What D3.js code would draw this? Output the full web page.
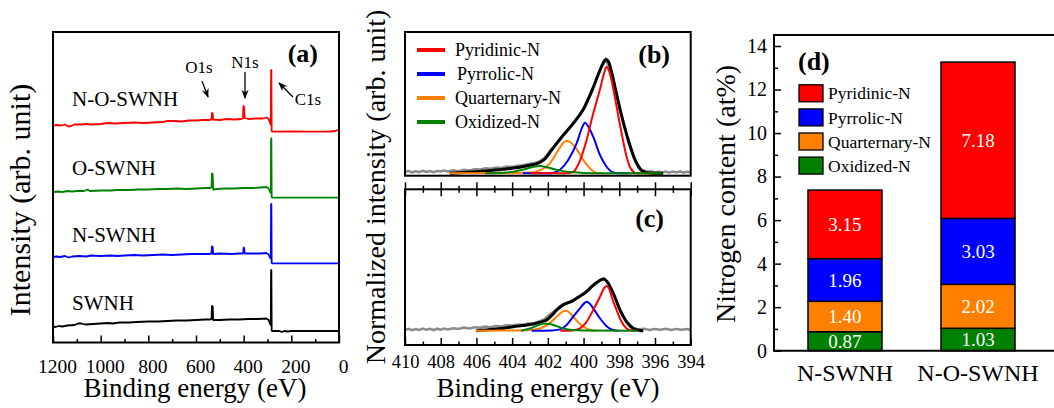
<!DOCTYPE html>
<html>
<head>
<meta charset="utf-8" />
<title>XPS of SWNH samples</title>
<style>
  body { margin: 0; background: #fff; }
  svg, svg text { font-family: "Liberation Serif", "Times New Roman", serif; }
</style>
</head>
<body>
<script src="https://d3js.org/d3.v7.min.js"></script>
<script>

// ---- panel (a): survey spectra, [binding energy eV, intensity arb.] ----
var surveyNOS = [[1200,216.5],[1185,217],[1165,216.5],[1150,217.5],[1135,215.5],[1125,216],[1110,217.5],[1080,217.5],[1060,218],[1040,217.5],[1000,218],[970,219],[940,218.5],[900,219],[860,219.5],[820,219],[780,219.5],[740,220],[720,221],[690,221],[660,220.5],[630,221.5],[600,221.5],[570,222],[545,222],[535,222.5],[533,229],[530,228.5],[528,222.5],[500,222],[470,223],[440,222.5],[410,223],[403,223.5],[401,236],[398,235],[396,224],[380,223],[350,223.5],[320,223.5],[305,224.5],[295,223],[289,219],[286,217.5],[285,271.5],[283.8,272],[282.5,211],[280,210.3],[240,210.3],[200,210.5],[150,210.3],[100,210.3],[40,210.5],[15,211],[5,212],[0,211.5]];
var surveyOS = [[1200,150],[1180,150.5],[1160,150],[1140,151],[1120,150.5],[1100,151],[1070,151],[1055,152.5],[1045,151],[1000,151.5],[960,151.5],[930,152],[880,152],[840,152.5],[800,152.5],[760,153],[720,153],[680,153.5],[640,153],[600,153.5],[560,154],[540,154],[535,155],[533,168.5],[530,168],[528,152.5],[510,153],[480,153.5],[440,153.5],[400,154],[360,154],[330,154.5],[305,155],[295,153.5],[289,150],[286,149],[285,203],[283.8,203.7],[282.5,145],[280,144.3],[0,144.3]];
var surveyNS = [[1200,85],[1185,85.5],[1170,85],[1150,86],[1135,84.5],[1120,85.5],[1090,86],[1060,85.5],[1040,86.5],[1000,86],[960,86.5],[930,86],[900,86.5],[860,87],[820,86.5],[780,87],[740,87.5],[700,87],[660,87.5],[620,88],[580,88],[545,88],[535,88.5],[533,95.5],[530,95],[528,88],[500,88.5],[450,88],[420,88.5],[405,88.5],[402,89],[400,94.5],[398,94],[396,88.5],[370,88.5],[330,88.5],[305,89],[295,87.5],[289,84],[286,83.5],[285,137.5],[283.8,138],[282.5,79],[280,78.7],[0,78.7]];
var surveyS = [[1200,15.5],[1190,15],[1175,16],[1160,15.5],[1140,16.5],[1110,17],[1095,18.5],[1080,18.5],[1065,17.5],[1030,18],[1000,18.5],[970,19],[950,18.5],[920,19.5],[880,19.5],[850,20],[800,20.5],[760,20.5],[720,21],[680,21.5],[640,21.5],[600,22],[560,22.5],[540,22.5],[535,23],[533,36],[530,35.5],[528,22],[500,22],[460,22.5],[420,22.5],[380,23],[340,23],[305,23.5],[295,22],[289,18],[286,17],[285,71.5],[283.8,72],[282.5,11.5],[280,11],[250,11],[240,10],[230,11],[215,10.5],[200,11],[0,11]];
var surveyNames = ["N-O-SWNH", "O-SWNH", "N-SWNH", "SWNH"];
var surveyColors = ["#ff0000", "#008000", "#0000ff", "#000000"];

// ---- panels (b) and (c): N1s fits, [eV, normalized intensity] ----
var rawB = [[410,0.012],[409.8,0.02],[409.6,0.008],[409.4,0.018],[409.2,0.01],[409,0.022],[408.8,0.012],[408.6,0.02],[408.4,0.01],[408.2,0.02],[408,0.015],[407.8,0.024],[407.6,0.015],[407.3,0.026],[407,0.018],[406.7,0.03],[406.4,0.025],[406.1,0.036],[405.8,0.032],[405.5,0.044],[405.2,0.04],[404.9,0.05],[404.6,0.047],[404.3,0.058],[404,0.056],[403.7,0.066],[403.4,0.07],[403.1,0.08],[402.8,0.088],[402.5,0.1],[402.2,0.13],[401.9,0.19],[401.2,0.32],[400.6,0.43],[400,0.56],[399.5,0.73],[399.1,0.89],[398.75,0.99],[398.4,0.86],[397.9,0.52],[397.5,0.29],[397.1,0.11],[396.75,0.028],[396.4,0.012],[396.2,0.018],[396,0.008],[395.8,0.016],[395.6,0.006],[395.4,0.015],[395.2,0.005],[395,0.016],[394.8,0.008],[394.6,0.018],[394.4,0.006],[394.2,0.014],[394,0.01]];
var envelopeB = [[407.5,0],[406.5,0.008],[405.5,0.02],[404.5,0.035],[403.5,0.055],[403,0.07],[402.5,0.09],[402.2,0.12],[401.8,0.2],[401.2,0.32],[400.6,0.43],[400,0.56],[399.5,0.73],[399.1,0.89],[398.9,0.96],[398.75,0.99],[398.6,0.97],[398.4,0.86],[398.2,0.72],[397.9,0.52],[397.5,0.29],[397.1,0.11],[396.75,0.025],[396.3,0.002],[395.55,0]];
var pyridinicB = [[403,0],[401,0],[400.6,0.01],[400.2,0.11],[399.83,0.29],[399.46,0.52],[399.08,0.73],[398.85,0.87],[398.71,0.927],[398.55,0.88],[398.43,0.81],[398.15,0.58],[397.87,0.35],[397.59,0.144],[397.31,0.03],[397,0],[396,0]];
var pyrrolicB = [[403.4,0],[401.8,0],[401.32,0.03],[400.86,0.116],[400.39,0.26],[400.1,0.39],[399.92,0.44],[399.75,0.41],[399.46,0.318],[399.08,0.159],[398.71,0.057],[398.34,0.008],[398,0],[397.4,0]];
var quaternaryB = [[407.5,0],[404,0.003],[403.37,0.005],[402.8,0.01],[402.44,0.025],[401.88,0.087],[401.41,0.203],[401.1,0.27],[400.95,0.283],[400.75,0.27],[400.48,0.231],[400.02,0.116],[399.55,0.029],[399.2,0],[399,0]];
var oxidizedB = [[405.5,0],[404.5,0.005],[403.9,0.014],[403.3,0.035],[402.72,0.06],[402.44,0.064],[402,0.05],[401.3,0.023],[400.6,0.008],[400,0.003],[399,0.001],[395.6,0]];

var rawC = [[410,0.008],[409.8,0.016],[409.6,0.004],[409.4,0.014],[409.2,0.006],[409,0.018],[408.8,0.008],[408.6,0.016],[408.4,0.006],[408.2,0.018],[408,0.01],[407.8,0.02],[407.6,0.012],[407.3,0.022],[407,0.016],[406.7,0.028],[406.4,0.02],[406.1,0.03],[405.8,0.026],[405.5,0.036],[405.2,0.03],[404.9,0.042],[404.6,0.038],[404.3,0.048],[404,0.046],[403.7,0.054],[403.4,0.052],[403.1,0.064],[402.8,0.066],[402.5,0.08],[402.2,0.1],[401.9,0.14],[401.5,0.19],[401.2,0.225],[400.9,0.245],[400.6,0.265],[400.3,0.29],[399.9,0.335],[399.5,0.39],[399,0.448],[398.86,0.455],[398.6,0.41],[398.3,0.32],[397.95,0.18],[397.6,0.08],[397.2,0.025],[396.9,0.012],[396.6,0.018],[396.3,0.006],[396,0.016],[395.7,0.008],[395.4,0.018],[395.1,0.006],[394.8,0.016],[394.5,0.008],[394.2,0.014],[394,0.006]];
var envelopeC = [[406,0],[405.05,0.012],[404.5,0.022],[403.93,0.035],[403.4,0.045],[402.82,0.058],[402.4,0.075],[402.07,0.093],[401.8,0.13],[401.5,0.18],[401.2,0.22],[400.95,0.239],[400.6,0.26],[400.39,0.282],[400.1,0.31],[399.83,0.341],[399.5,0.39],[399.27,0.419],[399,0.445],[398.86,0.45],[398.7,0.43],[398.62,0.413],[398.34,0.326],[397.96,0.18],[397.59,0.078],[397.22,0.02],[396.84,0.002],[396.66,0]];
var pyridinicC = [[401.3,0],[400.6,0.003],[400.2,0.02],[399.83,0.078],[399.46,0.18],[399.08,0.296],[398.85,0.37],[398.72,0.39],[398.55,0.36],[398.43,0.296],[398.15,0.18],[397.87,0.078],[397.59,0.02],[397.3,0.002],[397,0]];
var pyrrolicC = [[402.9,0],[401.8,0.002],[401.32,0.012],[400.95,0.05],[400.58,0.122],[400.2,0.195],[399.95,0.24],[399.83,0.252],[399.65,0.235],[399.46,0.195],[399.08,0.108],[398.71,0.04],[398.34,0.006],[398,0]];
var quaternaryC = [[406,0],[404,0.002],[403,0.006],[402.44,0.02],[401.97,0.058],[401.5,0.122],[401.2,0.165],[401.04,0.174],[400.85,0.165],[400.58,0.122],[400.2,0.058],[399.83,0.02],[399.5,0.003],[399.27,0]];
var oxidizedC = [[403.5,0],[403,0.02],[402.6,0.045],[402.25,0.064],[401.9,0.058],[401.5,0.04],[401.13,0.02],[400.6,0.006],[400,0.002],[397,0]];

// ---- panel (d): nitrogen content (at%) ----
var samples = ["N-SWNH", "N-O-SWNH"];
var oxidized = [0.87, 1.03];
var quaternary = [1.40, 2.02];
var pyrrolic = [1.96, 3.03];
var pyridinic = [3.15, 7.18];
var species = ["Pyridinic-N", "Pyrrolic-N", "Quarternary-N", "Oxidized-N"];
var speciesColors = ["#ff0000", "#0000ff", "#ff8000", "#008000"];

var serif = "'Liberation Serif', 'Times New Roman', serif";
var width = 1054, height = 408;
var svg = d3.select("body").append("svg")
    .attr("width", width)
    .attr("height", height)
    .attr("font-family", serif);
svg.append("rect").attr("width", width).attr("height", height).attr("fill", "#fff");

var defs = svg.append("defs");
defs.append("marker")
    .attr("id", "arrow")
    .attr("viewBox", "0 0 10 10")
    .attr("refX", 9).attr("refY", 5)
    .attr("markerWidth", 7).attr("markerHeight", 7)
    .attr("orient", "auto")
  .append("path")
    .attr("d", "M0,1 L10,5 L0,9 L3,5 z")
    .attr("fill", "#000");

function styleAxis(g, size) {
    g.attr("font-family", serif);
    g.select(".domain").remove();
    g.selectAll(".tick line").attr("stroke", "#000").attr("stroke-width", 1.5);
    g.selectAll("text").attr("fill", "#000").style("font-size", size + "px")
        .style("font-family", serif);
}

// ================= panel (a) =================
var aL = 53, aR = 339, aT = 32, aB = 342.5;
var xA = d3.scaleLinear().domain([1200, 0]).range([aL, aR]);
var yA = d3.scaleLinear().domain([0, 310]).range([342, 32]);

var lineA = d3.line().x(d => xA(d[0])).y(d => yA(d[1]));
[surveyNOS, surveyOS, surveyNS, surveyS].forEach(function(s, i) {
    svg.append("path")
        .datum(s)
        .attr("d", lineA)
        .attr("fill", "none")
        .attr("stroke", surveyColors[i])
        .attr("stroke-width", 1.8)
        .attr("stroke-linejoin", "round");
});

var axA = svg.append("g").attr("transform", "translate(0," + aB + ")")
    .call(d3.axisBottom(xA).tickValues(d3.range(1200, -1, -200)).tickSize(-7).tickPadding(17).tickFormat(d3.format("d")));
styleAxis(axA, 19.5);
axA.selectAll("text").attr("dx", 4);
var axAm = svg.append("g").attr("transform", "translate(0," + aB + ")")
    .call(d3.axisBottom(xA).tickValues(d3.range(1100, 0, -200)).tickSize(-3.5).tickFormat(""));
styleAxis(axAm, 19);

svg.append("rect").attr("x", aL).attr("y", aT).attr("width", aR - aL).attr("height", aB - aT)
    .attr("fill", "none").attr("stroke", "#000").attr("stroke-width", 2);

var labelBase = [106, 175, 241.7, 310];
surveyNames.forEach(function(n, i) {
    svg.append("text").attr("x", 72).attr("y", labelBase[i])
        .style("font-size", "21px").text(n);
});

svg.append("text").attr("x", 318).attr("y", 62).attr("text-anchor", "end")
    .style("font-size", "26px").style("font-weight", "bold").text("(a)");

svg.append("text").attr("x", 199).attr("y", 73).attr("text-anchor", "middle")
    .style("font-size", "17px").text("O1s");
svg.append("text").attr("x", 245).attr("y", 68).attr("text-anchor", "middle")
    .style("font-size", "17px").text("N1s");
svg.append("text").attr("x", 308).attr("y", 105).attr("text-anchor", "middle")
    .style("font-size", "17px").text("C1s");

function arrow(x1, y1, x2, y2) {
    svg.append("line").attr("x1", x1).attr("y1", y1).attr("x2", x2).attr("y2", y2)
        .attr("stroke", "#000").attr("stroke-width", 1.3)
        .attr("marker-end", "url(#arrow)");
}
arrow(202, 81, 208, 97);
arrow(245, 72, 245, 98);
arrow(293, 97, 279, 83);

svg.append("text").attr("transform", "translate(30,200) rotate(-90)")
    .attr("text-anchor", "middle").style("font-size", "30px").text("Intensity (arb. unit)");
svg.append("text").attr("x", 195).attr("y", 397)
    .attr("text-anchor", "middle").style("font-size", "27px").text("Binding energy (eV)");

// ================= panels (b) and (c) =================
var bL = 405, bR = 690.7;
var bT = 32, bB = 175.7, cT = 189.3, cB = 345;
var xN = d3.scaleLinear().domain([410, 394]).range([bL, bR]);
var yB = d3.scaleLinear().domain([-0.021, 1.229]).range([bB, bT]);
var yC = d3.scaleLinear().domain([-0.124, 1.23]).range([cB, cT]);

function drawFit(y, raw, env, comps) {
    var ln = d3.line().x(d => xN(d[0])).y(d => y(d[1])).curve(d3.curveMonotoneX);
    svg.append("path").datum(raw).attr("d", d3.line().x(d => xN(d[0])).y(d => y(d[1])))
        .attr("fill", "none").attr("stroke", "#8a8a8a").attr("stroke-width", 2.5);
    svg.append("path").datum(env).attr("d", ln)
        .attr("fill", "none").attr("stroke", "#000").attr("stroke-width", 3);
    // draw order: quaternary, pyrrolic, pyridinic, oxidized
    [2, 1, 0, 3].forEach(function(k) {
        svg.append("path").datum(comps[k]).attr("d", ln)
            .attr("fill", "none").attr("stroke", speciesColors[k]).attr("stroke-width", 2);
    });
}
drawFit(yB, rawB, envelopeB, [pyridinicB, pyrrolicB, quaternaryB, oxidizedB]);
drawFit(yC, rawC, envelopeC, [pyridinicC, pyrrolicC, quaternaryC, oxidizedC]);

var major = d3.range(410, 393, -2), minor = d3.range(409, 394, -2);
var axC = svg.append("g").attr("transform", "translate(0," + cB + ")")
    .call(d3.axisBottom(xN).tickValues(major).tickSize(-7).tickPadding(10));
styleAxis(axC, 18.5);
var axCm = svg.append("g").attr("transform", "translate(0," + cB + ")")
    .call(d3.axisBottom(xN).tickValues(minor).tickSize(-3.5).tickFormat(""));
styleAxis(axCm, 18);
// crossing ticks on the shared edge
[[major, 7], [minor, 3.5]].forEach(function(t) {
    var up = svg.append("g").attr("transform", "translate(0," + cT + ")")
        .call(d3.axisTop(xN).tickValues(t[0]).tickSize(t[1]).tickFormat(""));
    styleAxis(up, 18);
    var dn = svg.append("g").attr("transform", "translate(0," + cT + ")")
        .call(d3.axisBottom(xN).tickValues(t[0]).tickSize(t[1]).tickFormat(""));
    styleAxis(dn, 18);
});

svg.append("rect").attr("x", bL).attr("y", bT).attr("width", bR - bL).attr("height", bB - bT)
    .attr("fill", "none").attr("stroke", "#000").attr("stroke-width", 2);
svg.append("rect").attr("x", bL).attr("y", cT).attr("width", bR - bL).attr("height", cB - cT)
    .attr("fill", "none").attr("stroke", "#000").attr("stroke-width", 2);

species.forEach(function(s, i) {
    var yy = 50 + i * 24;
    svg.append("line").attr("x1", 417).attr("x2", 445).attr("y1", yy).attr("y2", yy)
        .attr("stroke", speciesColors[i]).attr("stroke-width", 4);
    svg.append("text").attr("x", i == 1 ? 457 : 455).attr("y", yy).attr("dy", "0.35em")
        .style("font-size", "18px").text(s);
});

svg.append("text").attr("x", 670).attr("y", 63).attr("text-anchor", "end")
    .style("font-size", "26px").style("font-weight", "bold").text("(b)");
svg.append("text").attr("x", 664).attr("y", 227).attr("text-anchor", "end")
    .style("font-size", "26px").style("font-weight", "bold").text("(c)");

svg.append("text").attr("transform", "translate(385,187) rotate(-90)")
    .attr("text-anchor", "middle").style("font-size", "28px").text("Normalized intensity (arb. unit)");
svg.append("text").attr("x", 548).attr("y", 397)
    .attr("text-anchor", "middle").style("font-size", "27px").text("Binding energy (eV)");

// ================= panel (d) =================
var dL = 774, dT = 35, dB = 350.7;
var xD = d3.scaleBand().domain(samples).range([dL, 1049]).paddingInner(0.4436).paddingOuter(0.2556);
var yD = d3.scaleLinear().domain([0, 14]).range([dB, 46]);

var table = samples.map(function(s, i) {
    return {sample: s, "Oxidized-N": oxidized[i], "Quarternary-N": quaternary[i],
            "Pyrrolic-N": pyrrolic[i], "Pyridinic-N": pyridinic[i]};
});
var stackOrder = ["Oxidized-N", "Quarternary-N", "Pyrrolic-N", "Pyridinic-N"];
var stacked = d3.stack().keys(stackOrder)(table);
var colorOf = d3.scaleOrdinal().domain(species).range(speciesColors);

var layers = svg.append("g").selectAll("g").data(stacked).join("g")
    .attr("fill", d => colorOf(d.key));
layers.selectAll("rect").data(d => d).join("rect")
    .attr("x", d => xD(d.data.sample))
    .attr("width", xD.bandwidth())
    .attr("y", d => yD(d[1]))
    .attr("height", d => yD(d[0]) - yD(d[1]))
    .attr("stroke", "#000").attr("stroke-width", 1.5);
layers.selectAll("text").data(d => d.map(v => ({key: d.key, v: v}))).join("text")
    .attr("x", d => xD(d.v.data.sample) + xD.bandwidth() / 2)
    .attr("y", d => yD((d.v[0] + d.v[1]) / 2))
    .attr("dy", "0.35em")
    .attr("text-anchor", "middle")
    .attr("fill", "#fff")
    .style("font-size", "19px")
    .text(d => d3.format(".2f")(d.v.data[d.key]));

var axD = svg.append("g").attr("transform", "translate(" + dL + ",0)")
    .call(d3.axisLeft(yD).tickValues(d3.range(0, 15, 2)).tickSize(-7).tickPadding(7));
styleAxis(axD, 20);
var axDm = svg.append("g").attr("transform", "translate(" + dL + ",0)")
    .call(d3.axisLeft(yD).tickValues(d3.range(1, 14, 2)).tickSize(-4).tickFormat(""));
styleAxis(axDm, 20);
var axDx = svg.append("g").attr("transform", "translate(0," + dB + ")")
    .call(d3.axisBottom(xD).tickSize(0).tickPadding(13));
styleAxis(axDx, 24);

svg.append("path")
    .attr("d", "M" + (width + 2) + "," + dT + "H" + dL + "V" + dB + "H" + (width + 2))
    .attr("fill", "none").attr("stroke", "#000").attr("stroke-width", 2);

svg.append("text").attr("x", 798).attr("y", 70)
    .style("font-size", "26px").style("font-weight", "bold").text("(d)");

species.forEach(function(s, i) {
    var yy = 93.3 + i * 24.1;
    svg.append("rect").attr("x", 799).attr("y", yy - 8.5).attr("width", 24).attr("height", 17)
        .attr("fill", speciesColors[i]).attr("stroke", "#000").attr("stroke-width", 1.3);
    svg.append("text").attr("x", 828).attr("y", yy).attr("dy", "0.35em")
        .style("font-size", "17.5px").text(s);
});

svg.append("text").attr("transform", "translate(735,194) rotate(-90)")
    .attr("text-anchor", "middle").style("font-size", "28px").text("Nitrogen content (at%)");

</script>
</body>
</html>
